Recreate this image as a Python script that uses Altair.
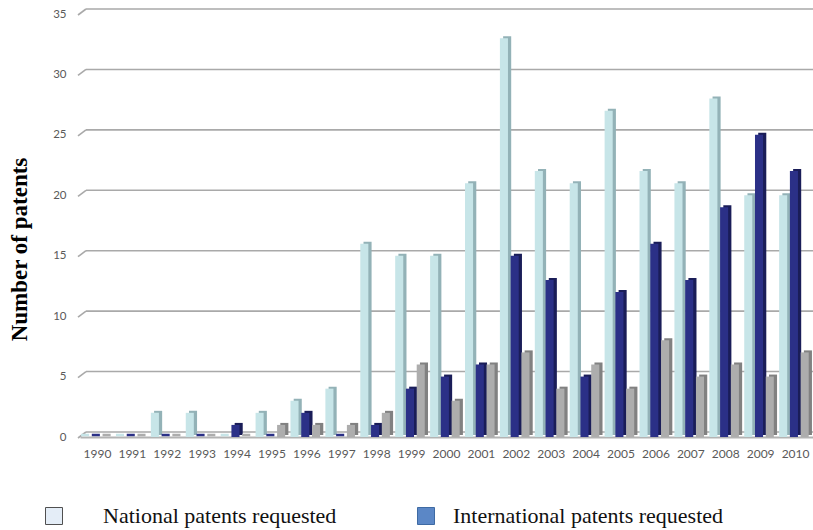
import altair as alt
import pandas as pd

# Patent counts per year, three series
years = [str(y) for y in range(1990, 2011)]
national = [0, 0, 2, 2, 0, 2, 3, 4, 16, 15, 15, 21, 33, 22, 21, 27, 22, 21, 28, 20, 20]
international = [0, 0, 0, 0, 1, 0, 2, 0, 1, 4, 5, 6, 15, 13, 5, 12, 16, 13, 19, 25, 22]
granted = [0, 0, 0, 0, 0, 1, 1, 1, 2, 6, 3, 6, 7, 4, 6, 4, 8, 5, 6, 5, 7]
series = ["National patents requested", "International patents requested", "Patents granted"]
y_ticks = [0, 5, 10, 15, 20, 25, 30, 35]

# Front faces and darker side faces of the pseudo-3D columns
face_colors = ["#c7e5e8", "#2b3087", "#adadad"]
side_colors = ["#93b2b7", "#1a1d58", "#818181"]

rows = []
for name, vals in zip(series, [national, international, granted]):
    for yr, v in zip(years, vals):
        rows.append({"year": yr, "series": name, "count": v})
df = pd.DataFrame(rows)
ticks_df = pd.DataFrame({"tick": y_ticks})

W, H = 733, 423
LABEL_FONT = "Lato"
SERIF = "Liberation Serif"

y_scale = alt.Scale(domain=[0, 35], nice=False, zero=True)
x_scale = alt.Scale(paddingInner=0.06, paddingOuter=0.03)

# Faces sit at the left of their slot, sides are the same band pushed right
face_off = alt.XOffset("series:N", sort=series,
                       scale=alt.Scale(domain=series, paddingInner=0.25,
                                       paddingOuter=0.15, align=0))
side_off = alt.XOffset("series:N", sort=series,
                       scale=alt.Scale(domain=series, paddingInner=0.25,
                                       paddingOuter=0.15, align=1))

x_axis = alt.Axis(labelAngle=0, labelFont=LABEL_FONT, labelFontSize=12,
                  labelColor="#595959", ticks=False, domainColor="#b3b3b3",
                  domainWidth=2, labelPadding=11, title=None, grid=False)
y_axis = alt.Axis(values=y_ticks, labelFont=LABEL_FONT, labelFontSize=11.5,
                  labelColor="#595959", labelPadding=14, ticks=False, domain=False,
                  grid=False, title="Number of patents", titleFont=SERIF,
                  titleFontSize=23, titleFontWeight="bold", titleColor="#000000",
                  titleX=-61, titleY=235, titleAngle=-90, titleAlign="center",
                  titleBaseline="middle")

x_enc = alt.X("year:N", sort=years, scale=x_scale, axis=x_axis)
y_enc = alt.Y("count:Q", scale=y_scale, axis=y_axis)
tick_y = alt.Y("tick:Q", scale=y_scale, axis=y_axis)

base = alt.Chart(df)

# Back-wall gridlines with a short slanted lead-in on the left
grid = alt.Chart(ticks_df).mark_rule(color="#a9a9a9", strokeWidth=1.6, yOffset=-5).encode(
    y=tick_y,
    x=alt.value(6), x2=alt.value(W),
)
grid_slant = alt.Chart(ticks_df).mark_rule(color="#a9a9a9", strokeWidth=1.6,
                                           yOffset=1, y2Offset=-5).encode(
    y=tick_y,
    y2="tick:Q",
    x=alt.value(-2), x2=alt.value(6),
)

sides = base.mark_bar(yOffset=-2).encode(
    x=x_enc,
    xOffset=side_off,
    y=y_enc,
    color=alt.Color("series:N", scale=alt.Scale(domain=series, range=side_colors), legend=None),
)

faces = base.mark_bar().encode(
    x=x_enc,
    xOffset=face_off,
    y=y_enc,
    color=alt.Color("series:N", scale=alt.Scale(domain=series, range=face_colors), legend=None),
)

# Zero-height columns show as thin slivers on the floor
zeros = base.transform_filter("datum.count == 0").mark_bar(strokeWidth=2.5, yOffset=-2).encode(
    x=x_enc,
    xOffset=face_off,
    y=y_enc,
    stroke=alt.Stroke("series:N", scale=alt.Scale(domain=series, range=face_colors), legend=None),
)


def legend_layer(name, fill, stroke, x, offset):
    return alt.Chart(df).transform_filter("false").mark_square(
        stroke=stroke, strokeWidth=1, opacity=1
    ).encode(
        fill=alt.Fill("series:N", scale=alt.Scale(domain=[name], range=[fill]),
                      legend=alt.Legend(orient="none", legendX=x, legendY=491, title=None,
                                        symbolType="square", symbolSize=289,
                                        symbolStrokeColor=stroke, symbolStrokeWidth=1,
                                        symbolOpacity=1,
                                        labelFont=SERIF, labelFontSize=22,
                                        labelColor="#111111", labelOffset=offset,
                                        padding=0, labelLimit=400))
    )


leg_nat = legend_layer(series[0], "#e4edf7", "#505050", -37, 38)
leg_int = legend_layer(series[1], "#5b87c6", "#3e6aa3", 335, 16)

chart = alt.layer(grid, grid_slant, sides, faces, zeros, leg_nat, leg_int).resolve_scale(
    color="independent", fill="independent", stroke="independent", xOffset="independent"
).properties(
    width=W, height=H,
    autosize=alt.AutoSizeParams(type="none"),
    padding={"left": 80, "top": 14, "right": 0, "bottom": 93},
    background="white",
).configure_view(stroke=None)

chart.save("out.html", embed_options={"renderer": "svg", "actions": False})
